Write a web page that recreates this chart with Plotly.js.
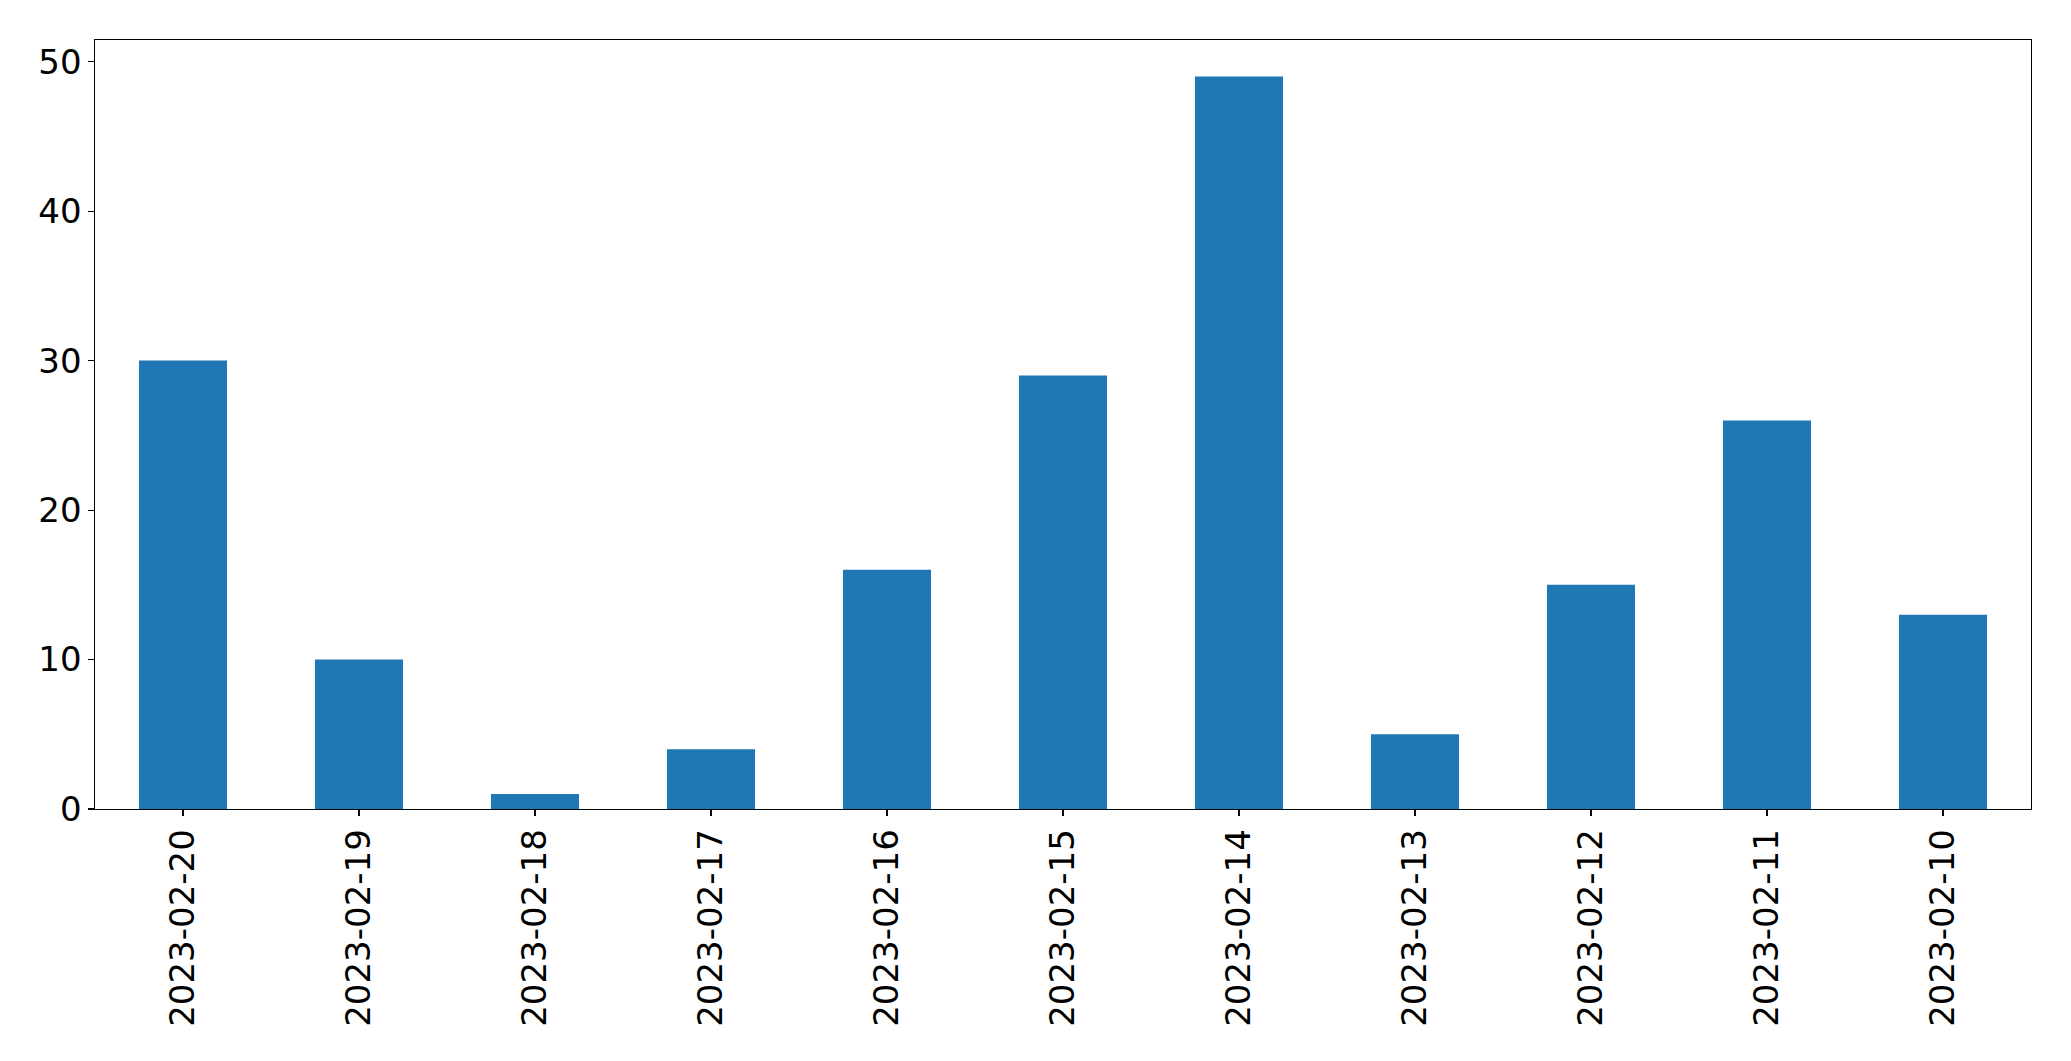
<!DOCTYPE html>
<html>
<head>
<meta charset="utf-8">
<script src="https://cdn.plot.ly/plotly-3.0.1.min.js"></script>
<style>html,body{margin:0;padding:0;background:#fff;}#chart{width:2071px;height:1061px;}</style>
</head>
<body>
<div id="chart"></div>
<script>
const dates = ["2023-02-20","2023-02-19","2023-02-18","2023-02-17","2023-02-16","2023-02-15","2023-02-14","2023-02-13","2023-02-12","2023-02-11","2023-02-10"];
const counts = [30, 10, 1, 4, 16, 29, 49, 5, 15, 26, 13];
const yTicks = [0, 10, 20, 30, 40, 50];

const font = {family: "DejaVu Sans", size: 34, color: "#000"};

Plotly.newPlot("chart", [{
  type: "bar",
  x: dates,
  y: counts,
  marker: {color: "#1f77b4", line: {width: 0}},
  hoverinfo: "none"
}], {
  width: 2071,
  height: 1061,
  margin: {l: 94.5, r: 40, t: 39.5, b: 252, pad: 0},
  paper_bgcolor: "#fff",
  plot_bgcolor: "#fff",
  bargap: 0.5,
  font: font,
  showlegend: false,
  xaxis: {
    type: "category",
    categoryorder: "array",
    categoryarray: dates,
    range: [-0.5, dates.length - 0.5],
    tickangle: -90,
    ticks: "outside",
    ticklen: 5.5,
    tickwidth: 1.1,
    tickcolor: "#000",
    showline: true,
    mirror: true,
    linecolor: "#000",
    linewidth: 1.1,
    showgrid: false,
    zeroline: false,
    tickfont: font,
    ticklabelstandoff: 0
  },
  yaxis: {
    range: [0, 51.45],
    tickvals: yTicks,
    ticktext: yTicks.map(String),
    ticks: "outside",
    ticklen: 5.5,
    tickwidth: 1.1,
    tickcolor: "#000",
    showline: true,
    mirror: true,
    linecolor: "#000",
    linewidth: 1.1,
    showgrid: false,
    zeroline: false,
    tickfont: font,
    ticklabelstandoff: 0
  }
}, {staticPlot: true, displayModeBar: false});
</script>
</body>
</html>
